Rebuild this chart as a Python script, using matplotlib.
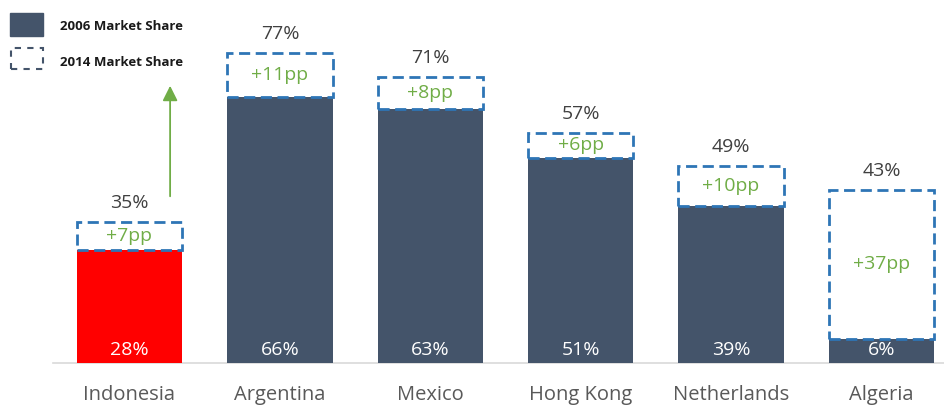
import matplotlib.pyplot as plt
from matplotlib.patches import Rectangle

# data
countries = ["Indonesia", "Argentina", "Mexico", "Hong Kong", "Netherlands", "Algeria"]
share_2006 = [28, 66, 63, 51, 39, 6]
share_2014 = [35, 77, 71, 57, 49, 43]
bar_colors = ["#FF0000", "#44546A", "#44546A", "#44546A", "#44546A", "#44546A"]

plt.rcParams['font.family'] = ['Open Sans', 'DejaVu Sans']

fig = plt.figure(figsize=(9.45, 4.07), dpi=100)
ax = fig.add_axes([0, 0, 1, 1])
ax.set_xlim(-0.861, 5.422)
ax.set_ylim(-10.9, 90.1)
ax.axis("off")

width = 0.70
x = list(range(len(countries)))

# base bars (2006)
ax.bar(x, share_2006, width=width, color=bar_colors, zorder=2)

# axis line
ax.plot([-0.51, 5.422], [0, 0], color="#D9D9D9", lw=1.2, zorder=1)

for i, c in enumerate(countries):
    old = share_2006[i]
    new = share_2014[i]
    # dashed 2014 box
    box = Rectangle((i - width / 2, old), width, new - old, fill=False,
                    edgecolor="#2E75B6", lw=2, linestyle=(0, (4, 2)), zorder=3)
    ax.add_patch(box)
    # growth label
    ax.text(i, (old + new) / 2, "+%dpp" % (new - old), ha="center", va="center",
            color="#70AD47", fontsize=14, zorder=4)
    # 2014 value
    ax.text(i, new + 4.7, "%d%%" % new, ha="center", va="center",
            color="#404040", fontsize=14)
    # 2006 value inside bar
    ax.text(i, 3.3, "%d%%" % old, ha="center", va="center",
            color="white", fontsize=14, zorder=4)
    # category label
    ax.text(i, -8, c, ha="center", va="center", color="#595959", fontsize=14.5)

# green arrow above Indonesia
ax.annotate("", xy=(0.27, 69.5), xytext=(0.27, 40.7),
            arrowprops=dict(arrowstyle="-|>,head_length=0.9,head_width=0.45",
                            color="#70AD47", lw=1.3))

# legend
fig.patches.append(Rectangle((10 / 945, 1 - 36 / 407), 33 / 945, 23 / 407,
                             transform=fig.transFigure, color="#44546A"))
fig.patches.append(Rectangle((11 / 945, 1 - 69 / 407), 32 / 945, 21 / 407,
                             transform=fig.transFigure, fill=False,
                             edgecolor="#44546A", lw=1.5, linestyle=(0, (3, 3))))
fig.text(60 / 945, 1 - 26 / 407, "2006 Market Share", fontsize=9.5, fontweight="bold",
         color="#1a1a1a", va="center", ha="left")
fig.text(60 / 945, 1 - 62 / 407, "2014 Market Share", fontsize=9.5, fontweight="bold",
         color="#1a1a1a", va="center", ha="left")

fig.savefig("out.png", dpi=100)
